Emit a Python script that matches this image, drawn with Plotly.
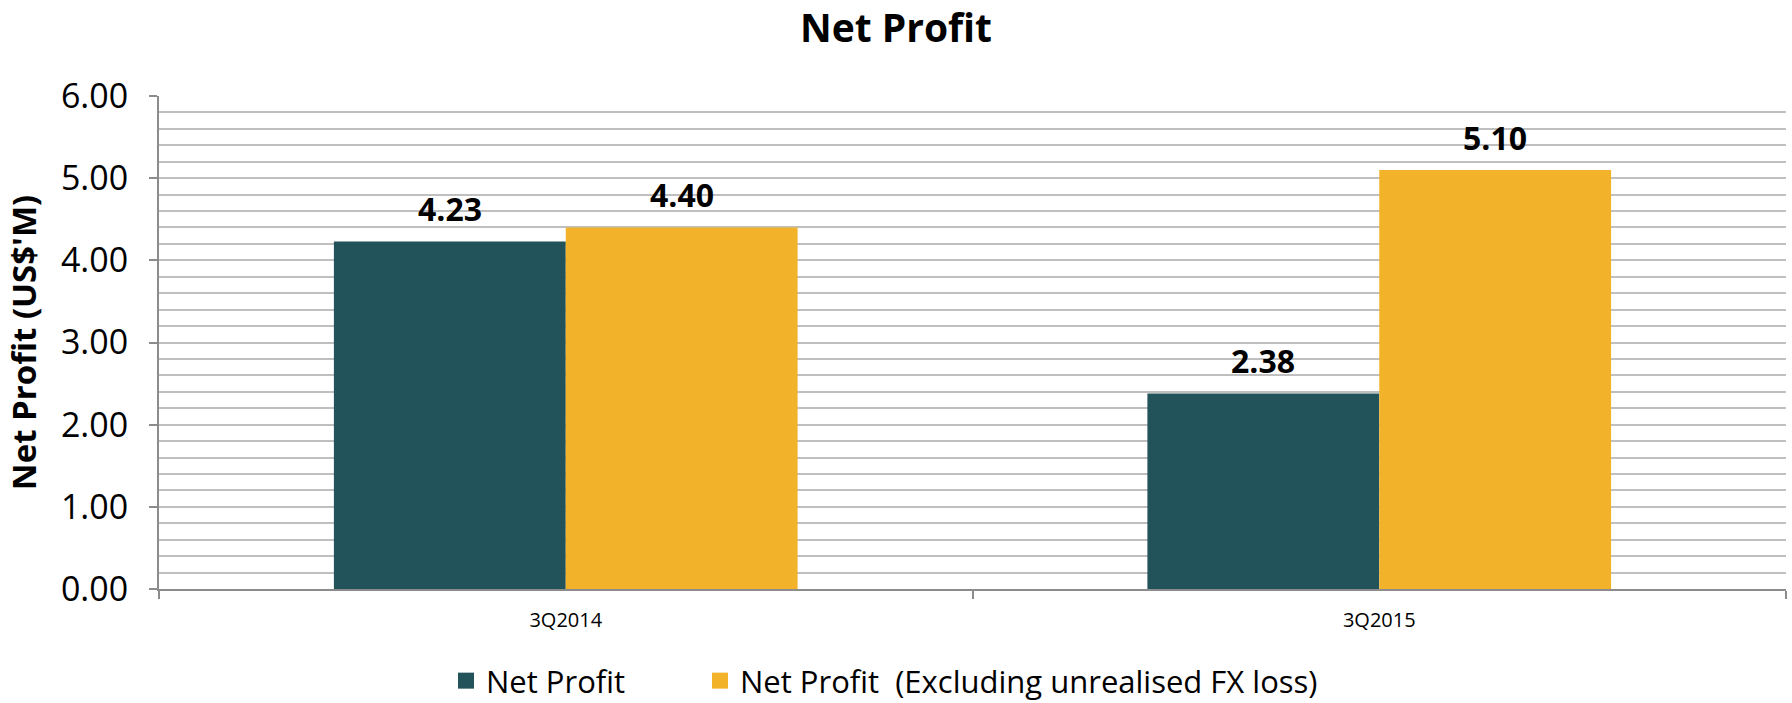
import plotly.graph_objects as go

categories = ["3Q2014", "3Q2015"]
net_profit = [4.23, 2.38]
net_profit_excl = [4.40, 5.10]
series_names = ["Net Profit", "Net Profit  (Excluding unrealised FX loss)"]
colors = ["#22525A", "#F2B32B"]

FONT = "Open Sans"

fig = go.Figure()
for vals, nm, col in [(net_profit, series_names[0], colors[0]),
                      (net_profit_excl, series_names[1], colors[1])]:
    fig.add_trace(go.Bar(x=categories, y=vals, name=nm, showlegend=False,
                         marker=dict(color=col, line=dict(width=0))))
# legend swatches (one legend per series so the spacing can match)
for nm, col, lg in zip(series_names, colors, ["legend", "legend2"]):
    fig.add_trace(go.Scatter(x=[None], y=[None], mode="markers", name=nm, legend=lg,
                             marker=dict(symbol="square", size=21, color=col)))

# data labels
plot_w = 1792 - 159 - 6
bargap = 0.43
bar_px = plot_w / len(categories) * (1 - bargap) / 2
for vals, sh in [(net_profit, -bar_px / 2), (net_profit_excl, bar_px / 2)]:
    for c, v in zip(categories, vals):
        fig.add_annotation(x=c, y=v, xref="x", yref="y", text=f"<b>{v:.2f}</b>",
                           showarrow=False, xshift=sh, yshift=9, yanchor="bottom",
                           font=dict(family=FONT, size=32, color="#000000"))

leg_common = dict(orientation="h", xref="container", xanchor="left",
                  yref="container", y=1 - 681 / 703, yanchor="middle",
                  font=dict(family=FONT, size=31, color="#000000"),
                  itemwidth=30, bgcolor="rgba(0,0,0,0)")

fig.update_layout(
    width=1792, height=703,
    margin=dict(l=159, r=6, t=96, b=114, autoexpand=False),
    paper_bgcolor="white", plot_bgcolor="white",
    barmode="group", bargap=bargap, bargroupgap=0,
    title=dict(text="<b>Net Profit</b>", x=0.5, xanchor="center", xref="container",
               y=1 - 28 / 703, yref="container", yanchor="middle",
               font=dict(family=FONT, size=39, color="#000000")),
    font=dict(family=FONT, color="#000000"),
    showlegend=True,
    legend=dict(x=446 / 1792, **leg_common),
    legend2=dict(x=700 / 1792, **leg_common),
)

fig.update_yaxes(range=[0, 6], dtick=1, tick0=0, tickformat=".2f",
                 tickfont=dict(family=FONT, size=34, color="#000000"),
                 showgrid=True, gridcolor="#BFBFBF", gridwidth=1.5,
                 minor=dict(dtick=0.2, showgrid=True, gridcolor="#BFBFBF", gridwidth=1.5),
                 showline=True, linecolor="#8C8C8C", linewidth=2,
                 ticks="outside", ticklen=8, tickcolor="#8C8C8C", tickwidth=2,
                 ticklabelstandoff=14, zeroline=False,
                 title=dict(text="<b>Net Profit (US$'M)</b>",
                            font=dict(family=FONT, size=33, color="#000000"), standoff=14))

fig.update_xaxes(type="category", tickson="boundaries",
                 ticks="outside", ticklen=8, tickcolor="#8C8C8C", tickwidth=2,
                 showline=True, linecolor="#8C8C8C", linewidth=2,
                 showgrid=False,
                 tickfont=dict(family=FONT, size=20, color="#000000"),
                 ticklabelstandoff=12)

fig.write_html("out.html", config={"displayModeBar": False},
               post_script="document.body.style.margin='0';document.body.style.padding='0';")
